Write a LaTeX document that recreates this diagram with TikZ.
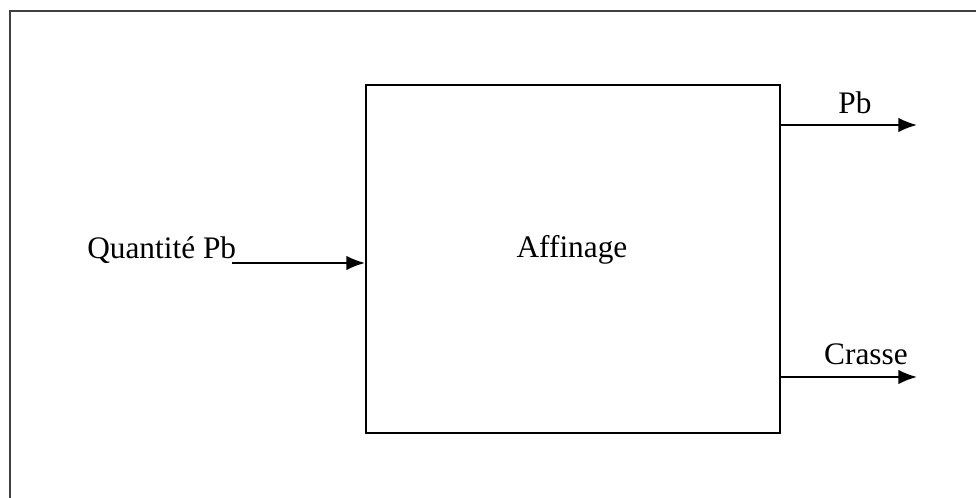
\documentclass[tikz,border=0pt]{standalone}
\usepackage{fontspec}
\setmainfont{Liberation Serif}
\usetikzlibrary{arrows.meta}
\tikzset{
  flow/.style = {line width=1.5pt, -{Latex[length=14pt,width=11pt]}},
  txt/.style = {inner sep=0pt, font=\fontsize{23.5}{28}\selectfont}
}
\begin{document}
\begin{tikzpicture}[x=0.75pt, y=0.75pt]
\useasboundingbox (0,0) rectangle (976,498);
% frame
\draw [line width=2.2pt, black!75] (10,0) -- (10,487) -- (976,487);
% process block
\node (affinage) [draw, line width=1.5pt, minimum width=310.5pt, minimum height=261pt, inner sep=0pt] at (573,239) {};
\node (affinagetxt) [txt] at (572,248) {Affinage};
% input
\node (qte) [txt, anchor=base west] at (87,239) {Quantité Pb};
\coordinate (qteend) at (232,235);
\draw [flow] (qteend) -- (qteend -| affinage.west);
% outputs
\coordinate (pbend) at (917,373);
\coordinate (crasseend) at (917,121);
\draw [flow] (pbend -| affinage.east) -- (pbend);
\draw [flow] (crasseend -| affinage.east) -- (crasseend);
\node (pb) [txt] at (855,395) {Pb};
\node (crasse) [txt] at (866,144) {Crasse};
\end{tikzpicture}
\end{document}
